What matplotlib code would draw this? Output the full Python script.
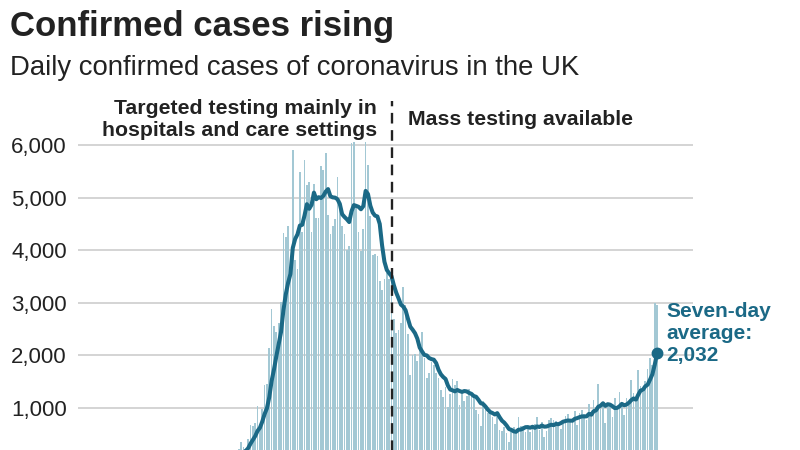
import matplotlib
matplotlib.use("Agg")
import matplotlib.pyplot as plt
import pandas as pd

plt.rcParams['font.family'] = ['Liberation Sans', 'DejaVu Sans']

# Daily confirmed cases, UK, 1 Mar - 7 Sep 2020
march = [13, 4, 11, 34, 30, 48, 43, 67, 48, 61,
         76, 134, 209, 342, 250, 152, 407, 676, 643, 714,
         1035, 665, 967, 1427, 1452, 2129, 2885, 2546, 2433, 2619, 3009]
april = [4324, 4244, 4450, 3735, 5903, 3802, 3634, 5491, 4344, 5706,
         5234, 5288, 4342, 5252, 4603, 4617, 5599, 5525, 5850, 4676,
         4301, 4451, 4583, 5386, 4913, 4463, 4309, 3996, 4076, 6032]
may = [6201, 4806, 4339, 3985, 4406, 6111, 5614, 4649, 3896, 3923,
       3877, 3403, 3242, 3446, 3560, 3450, 3534, 2684, 2412, 2472,
       2615, 3287, 2959, 2409, 1625, 2004, 2013, 1887, 2095, 2445, 1936]
june = [1570, 1653, 1871, 1805, 1650, 1557, 1326, 1205, 1387, 1003,
        1266, 1541, 1425, 1514, 1056, 1279, 1115, 1218, 1346, 1295,
        1221, 958, 874, 653, 1118, 1006, 890, 901, 815, 689]
july = [829, 576, 544, 624, 516, 352, 581, 630, 512, 820,
        651, 650, 530, 598, 538, 642, 687, 827, 580, 726,
        445, 560, 769, 798, 767, 747, 685, 581, 763, 846, 880]
august = [744, 742, 938, 670, 892, 950, 871, 758, 1062, 816,
          1148, 1009, 1441, 1012, 1077, 713, 1040, 1089, 812, 1182,
          1033, 1288, 1041, 853, 1184, 1048, 1522, 1276, 1108, 1715, 1406]
september = [1295, 1508, 1735, 1940, 1813, 2988, 2948]

start_date = '2020-03-01'
mass_testing_date = '2020-05-18'
y_ticks = [1000, 2000, 3000, 4000, 5000, 6000]

cases = march + april + may + june + july + august + september
dates = pd.date_range(start_date, periods=len(cases), freq='D')
series = pd.Series(cases, index=dates)
avg = series.rolling(7).mean()

BAR = '#a3c8d4'
LINE = '#1b6986'
W, H = 800, 450

fig = plt.figure(figsize=(8, 4.5), dpi=100)

# axes placed in pixel terms; bottom of plot runs off the picture like the original
ax = fig.add_axes([78 / W, -10 / H, (693 - 78) / W, (460 - 142.4) / H])
ax.set_ylim(0, 6050)
ax.set_xlim(dates[0] - pd.Timedelta(days=56.4), dates[-1] + pd.Timedelta(days=15.3))

ax.bar(dates, series.values, width=0.72, color=BAR, zorder=2)
ax.plot(avg.index, avg.values, color=LINE, linewidth=2.9, zorder=3,
        solid_capstyle='round', solid_joinstyle='round')
ax.plot(avg.index[-1], avg.values[-1], 'o', color=LINE, markersize=7.5, zorder=4)

ax.axvline(pd.Timestamp(mass_testing_date) - pd.Timedelta(days=0.7), ymax=1.13,
           color='#222222', linewidth=1.7, linestyle=(0, (4.5, 2.8)),
           clip_on=False, zorder=5)

ax.set_yticks(y_ticks)
ax.set_yticklabels([f'{v:,}' for v in y_ticks], fontsize=16, color='#222222')
ax.set_xticks([])
ax.tick_params(axis='y', length=0, pad=8)
ax.grid(axis='y', color='#c9c9c9', linewidth=1.1, zorder=0)
ax.set_axisbelow(True)
for s in ax.spines.values():
    s.set_visible(False)


def px(x, y):
    return x / W, 1 - y / H


fig.text(*px(10, 36), 'Confirmed cases rising', fontsize=25, fontweight='bold',
         color='#222222', va='baseline')
fig.text(*px(10, 75), 'Daily confirmed cases of coronavirus in the UK', fontsize=19.8,
         color='#222222', va='baseline')

fig.text(*px(377, 114), 'Targeted testing mainly in', fontsize=15.3, fontweight='bold',
         color='#222222', ha='right', va='baseline')
fig.text(*px(377, 136), 'hospitals and care settings', fontsize=15.3, fontweight='bold',
         color='#222222', ha='right', va='baseline')
fig.text(*px(408, 125), 'Mass testing available', fontsize=15.3, fontweight='bold',
         color='#222222', va='baseline')

for y, line in [(317, 'Seven-day'), (339, 'average:'), (361, f'{round(avg.values[-1]):,}')]:
    fig.text(*px(666, y), line, fontsize=15, fontweight='bold', color=LINE, va='baseline')

fig.savefig('out.png', dpi=100)
